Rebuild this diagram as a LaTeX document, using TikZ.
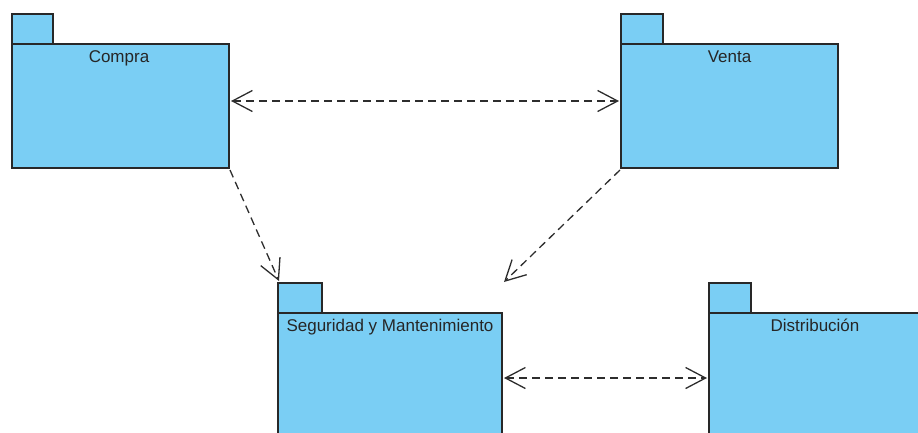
\documentclass[tikz,border=0pt]{standalone}
\usepackage{fontspec}
\setmainfont{Liberation Sans}
\usetikzlibrary{arrows.meta}
\definecolor{pkgfill}{RGB}{122,206,244}
\definecolor{pkgline}{RGB}{40,40,40}
\definecolor{arrowline}{RGB}{45,45,45}
\begin{document}
\begin{tikzpicture}[x=1pt,y=-1pt,
  pkgbody/.style={draw=pkgline,fill=pkgfill,line width=1.4pt,rectangle,inner sep=0pt,outer sep=0pt,anchor=north west},
  pkgtab/.style={draw=pkgline,fill=pkgfill,line width=1.4pt,rectangle,inner sep=0pt,outer sep=0pt,anchor=north west,minimum height=30pt},
  pkglabel/.style={font=\fontsize{17}{20}\selectfont,text=black!85,anchor=base,inner sep=0pt},
  barb/.style={Straight Barb[length=20pt,width=21pt,line width=1.3pt]},
  dep/.style={draw=arrowline,line width=1.3pt,dash pattern=on 8pt off 5pt,-{Straight Barb[length=20pt,width=21pt,line width=1.3pt]}},
  bidep/.style={draw=arrowline,line width=1.3pt,dash pattern=on 8pt off 5pt,{Straight Barb[length=20pt,width=21pt,line width=1.3pt]}-{Straight Barb[length=20pt,width=21pt,line width=1.3pt]}}]
\useasboundingbox (0,0) rectangle (918,432);
\clip (0,0) rectangle (918,432);
% Compra
\node[pkgtab,minimum width=41pt] (compratab) at (12,14) {};
\node[pkgbody,minimum width=217pt,minimum height=124pt] (compra) at (12,44) {};
\node[pkglabel] (compralbl) at (119,62) {Compra};
% Venta
\node[pkgtab,minimum width=42pt] (ventatab) at (621,14) {};
\node[pkgbody,minimum width=217pt,minimum height=124pt] (venta) at (621,44) {};
\node[pkglabel] (ventalbl) at (729.5,62) {Venta};
% Seguridad
\node[pkgtab,minimum width=44pt] (segtab) at (278,283) {};
\node[pkgbody,minimum width=224pt,minimum height=140pt] (seg) at (278,313) {};
\node[pkglabel] (seglbl) at (390,331) {Seguridad y Mantenimiento};
% Distribucion
\node[pkgtab,minimum width=42pt] (disttab) at (709,283) {};
\node[pkgbody,minimum width=212pt,minimum height=140pt] (dist) at (709,313) {};
\node[pkglabel] (distlbl) at (815,331) {Distribución};
% connector end points
\coordinate (cv1) at (231,101);
\coordinate (cv2) at (619,101);
\coordinate (cs1) at (230,170);
\coordinate (cs2) at (279,281);
\coordinate (vs1) at (620,170);
\coordinate (vs2) at (504,282);
\coordinate (sd1) at (504,378);
\coordinate (sd2) at (707,378);
\draw[bidep] (cv1) -- (cv2);
\draw[dep] (cs1) -- (cs2);
\draw[dep] (vs1) -- (vs2);
\draw[bidep] (sd1) -- (sd2);
\end{tikzpicture}
\end{document}
